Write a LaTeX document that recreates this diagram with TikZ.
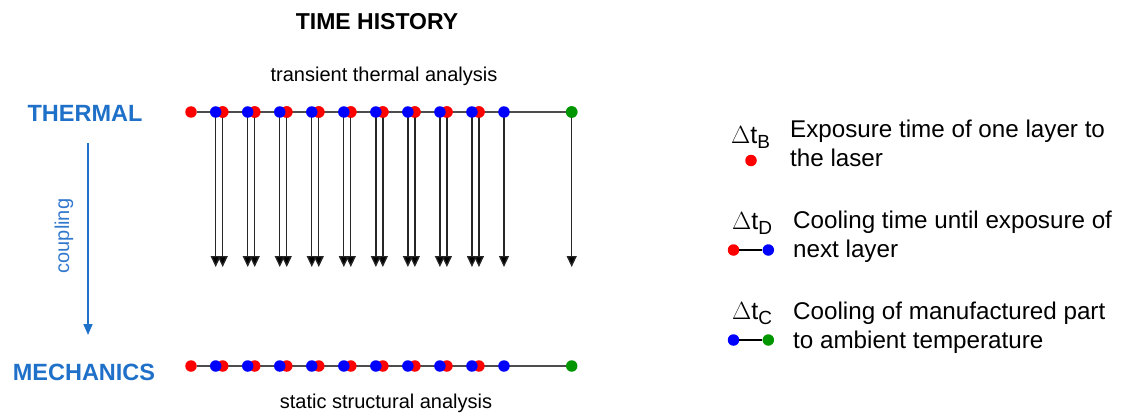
\documentclass[tikz,border=0pt]{standalone}
\usepackage{fontspec}
\setmainfont{Liberation Sans}
\usetikzlibrary{arrows.meta}
\definecolor{tblue}{RGB}{31,112,200}
\definecolor{cblue}{RGB}{50,120,205}
\definecolor{dred}{RGB}{255,0,0}
\definecolor{dblue}{RGB}{0,0,255}
\definecolor{dgreen}{RGB}{0,150,0}
\tikzset{
  dot/.style={circle,inner sep=0pt,minimum size=11.5pt,fill=#1},
  timeline/.style={line width=1.8pt,draw=black!70},
  drop/.style={line width=1.3pt,draw=black!85,-{Triangle[length=11pt,width=10pt,fill=black]}},
  ttl/.style={font=\fontsize{23}{26}\selectfont\bfseries,text=black},
  sub/.style={font=\fontsize{20}{24}\selectfont,text=black},
  big/.style={font=\fontsize{23.5}{26}\selectfont\bfseries,text=tblue},
  leg/.style={font=\fontsize{24.2}{28.5}\selectfont,align=left,text=black},
  dlt/.style={font=\fontsize{25}{28}\selectfont,text=black},
  legline/.style={line width=1.8pt,draw=black}
}
\newcommand{\lsub}[1]{\raisebox{-5pt}{\fontsize{19}{22}\selectfont #1}}
\begin{document}
\begin{tikzpicture}[x=1pt,y=-1pt]
\useasboundingbox (0,0) rectangle (1121,417);
% titles
\node[ttl,anchor=base] (title) at (377,30) {TIME HISTORY};
\node[sub,anchor=base] (tta) at (384,81.5) {transient thermal analysis};
\node[sub,anchor=base] (ssa) at (386,408.5) {static structural analysis};
\node[big,anchor=base] (therm) at (85,121.5) {THERMAL};
\node[big,anchor=base] (mech) at (84,380) {MECHANICS};
% coupling arrow
\coordinate (cs) at (88,143);
\coordinate (ce) at (88,335);
\draw[tblue,line width=1.6pt,-{Triangle[length=11pt,width=9pt]}] (cs) -- (ce);
\node[font=\fontsize{20}{24}\selectfont,text=cblue,rotate=90] (coup) at (64,236) {coupling};
% thermal and mechanics timelines
\node[dot=dred] (tr0) at (191,112) {};
\node[dot=dgreen] (tg) at (571.7,112) {};
\node[dot=dred] (mr0) at (191,366) {};
\node[dot=dgreen] (mg) at (571.7,366) {};
\draw[timeline] (tr0) -- (tg);
\draw[timeline] (mr0) -- (mg);
\foreach \k in {0,...,8}{
  \pgfmathsetmacro{\xr}{222.7+32.03*\k}
  \node[dot=dred] (tr\k) at (\xr,112) {};
  \node[dot=dred] (mr\k) at (\xr,366) {};
  \coordinate (ar\k) at (\xr,267);
  \draw[drop] (tr\k.center) -- (ar\k);
}
\foreach \k in {0,...,9}{
  \pgfmathsetmacro{\xb}{215.7+32.03*\k}
  \coordinate (ab\k) at (\xb,267);
  \draw[drop] (\xb,112) coordinate (tbc\k) -- (ab\k);
  \node[dot=dblue] (mb\k) at (\xb,366) {};
}
\foreach \k in {0,...,8}{
  \pgfmathsetmacro{\xr}{222.7+32.03*\k}
  \node[dot=dred] at (\xr,112) {};
}
\foreach \k in {0,...,9}{
  \node[dot=dblue] (tb\k) at (tbc\k) {};
}
\coordinate (ag) at (571.7,267);
\draw[drop] (tg.center) -- (ag);
\node[dot=dgreen] at (571.7,112) {};
% legend
\node[dlt,anchor=base west,inner sep=0pt] (dB) at (731,143) {$\Delta$t\lsub{B}};
\node[dot=dred] (lB) at (751,160.5) {};
\node[leg,anchor=north west,inner sep=0pt] (tB) at (790,120) {Exposure time of one layer to\\the laser};
\node[dlt,anchor=base west,inner sep=0pt] (dD) at (732,229) {$\Delta$t\lsub{D}};
\node[dot=dred] (lD1) at (733.5,250) {};
\node[dot=dblue] (lD2) at (768.3,250) {};
\draw[legline] (lD1) -- (lD2);
\node[leg,anchor=north west,inner sep=0pt] (tD) at (793,211) {Cooling time until exposure of\\next layer};
\node[dlt,anchor=base west,inner sep=0pt] (dC) at (732,319) {$\Delta$t\lsub{C}};
\node[dot=dblue] (lC1) at (733.5,340) {};
\node[dot=dgreen] (lC2) at (768.3,340) {};
\draw[legline] (lC1) -- (lC2);
\node[leg,anchor=north west,inner sep=0pt] (tC) at (793,302) {Cooling of manufactured part\\to ambient temperature};
\end{tikzpicture}
\end{document}
